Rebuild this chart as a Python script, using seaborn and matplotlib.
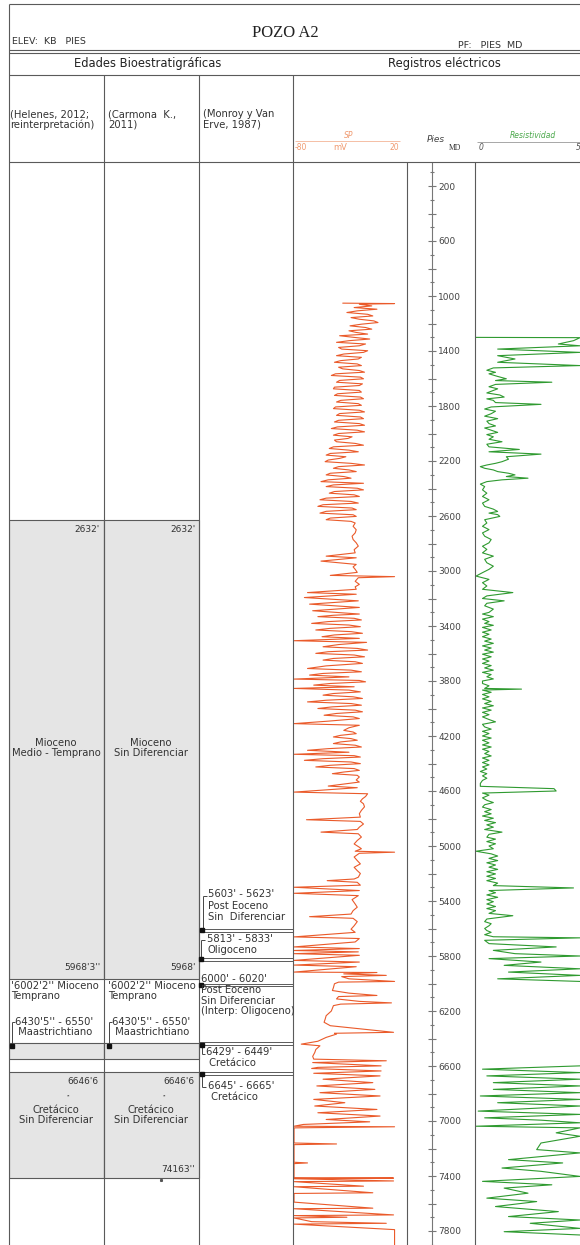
import matplotlib
matplotlib.use("Agg")
import matplotlib.pyplot as plt
import seaborn as sns
import pandas as pd
from matplotlib.patches import Rectangle
from matplotlib.ticker import FixedLocator, FuncFormatter

# ---------------- data ----------------
# SP log (depth ft, mV)
sp_upper = [(1052, -36), (1055, 14), (1060, -20), (1072, -8), (1084, -25), (1096, -3), (1108, -22), (1120, -32),
            (1133, -12), (1145, -7), (1157, -28), (1169, -20), (1181, -6), (1193, -2), (1205, -18), (1217, -29),
            (1229, -14), (1241, -8), (1253, -30), (1265, -23), (1277, -12), (1289, -39), (1301, -25), (1313, -10),
            (1325, -30), (1337, -42), (1349, -14), (1362, -20), (1374, -40), (1386, -37), (1398, -12), (1410, -16),
            (1422, -35), (1434, -42), (1446, -18), (1458, -21), (1470, -38), (1482, -44), (1494, -22), (1506, -18),
            (1518, -40), (1530, -36), (1542, -20), (1554, -15), (1566, -43), (1578, -47), (1590, -19), (1602, -16),
            (1614, -39), (1627, -42), (1639, -17), (1651, -20), (1663, -44), (1675, -45), (1687, -20), (1699, -18),
            (1711, -41), (1723, -44), (1735, -19), (1747, -16), (1759, -38), (1771, -42), (1783, -21), (1795, -18),
            (1807, -43), (1819, -45), (1831, -20), (1843, -15), (1855, -39), (1868, -42), (1880, -19), (1892, -16),
            (1904, -40), (1916, -44), (1928, -20), (1940, -15), (1952, -41), (1964, -47), (1976, -22), (1988, -15),
            (2000, -40), (2012, -45), (2024, -27), (2036, -31), (2048, -44), (2060, -42), (2072, -24), (2085, -16),
            (2097, -45), (2109, -49), (2121, -30), (2133, -21), (2145, -48), (2157, -52), (2169, -33), (2181, -39),
            (2193, -50), (2205, -53), (2217, -28), (2229, -15), (2241, -40), (2253, -45), (2265, -30), (2277, -23),
            (2289, -48), (2301, -52), (2313, -35), (2325, -28), (2337, -50), (2350, -57), (2362, -16), (2374, -45),
            (2386, -52), (2398, -22), (2410, -16), (2422, -44), (2434, -49), (2446, -25), (2458, -20), (2470, -52),
            (2482, -58), (2494, -28), (2506, -21), (2518, -55), (2530, -60), (2542, -27), (2554, -23), (2566, -52),
            (2579, -58), (2591, -26), (2603, -23), (2615, -48), (2627, -52), (2639, -28), (2651, -24), (2675, -26),
            (2700, -23), (2723, -24), (2747, -27), (2771, -26), (2795, -23), (2819, -21), (2845, -25), (2868, -24),
            (2892, -52), (2904, -23), (2928, -57), (2952, -23), (2970, -26), (2988, -24), (3010, -22), (3032, -48),
            (3041, 14), (3049, -21), (3075, -24), (3097, -20), (3115, -24), (3133, -23), (3157, -70), (3169, -23),
            (3193, -73), (3217, -21), (3241, -68), (3265, -20), (3289, -65), (3313, -20)]
sp_middle = [(3322, -45), (3332, -60), (3344, -25), (3356, -18), (3368, -50), (3381, -66), (3393, -30), (3405, -19),
             (3417, -48), (3429, -62), (3441, -28), (3453, -17), (3465, -44), (3478, -56), (3490, -20), (3507, -83),
             (3519, -13), (3535, -40), (3551, -55), (3563, -22), (3575, -12), (3587, -50), (3599, -62), (3611, -25),
             (3624, -15), (3636, -45), (3648, -55), (3660, -24), (3672, -17), (3690, -52), (3709, -70), (3721, -28),
             (3733, -18), (3745, -55), (3757, -68), (3770, -30), (3786, -83), (3796, -20), (3806, -14), (3818, -48),
             (3830, -64), (3842, -25), (3854, -83), (3866, -30), (3879, -19), (3891, -45), (3903, -55), (3915, -26),
             (3927, -17), (3940, -52), (3952, -70), (3964, -28), (3976, -18), (3988, -46), (4000, -60), (4012, -24),
             (4024, -17), (4036, -42), (4049, -54), (4061, -26), (4073, -20), (4092, -50), (4110, -83), (4122, -20),
             (4140, -30), (4159, -35), (4171, -26), (4183, -23), (4195, -38), (4207, -45), (4219, -28), (4231, -22),
             (4243, -38), (4255, -45), (4267, -24), (4280, -18), (4292, -50), (4304, -70), (4318, -30), (4333, -83),
             (4343, -25), (4353, -19), (4365, -55), (4377, -73), (4389, -28), (4401, -19), (4413, -48), (4425, -62),
             (4437, -25), (4450, -20), (4462, -35), (4474, -46), (4486, -22), (4498, -20), (4520, -23), (4535, -20),
             (4564, -50), (4576, -22), (4608, -83), (4620, -12), (4640, -14), (4657, -17), (4675, -19), (4693, -16),
             (4715, -15), (4741, -18), (4765, -20), (4790, -19), (4809, -71), (4821, -19), (4840, -16), (4863, -20),
             (4880, -22), (4899, -57), (4911, -21), (4935, -18), (4960, -22), (4985, -25), (5009, -20), (5020, -18),
             (5038, -24), (5045, 14), (5053, -20), (5080, -25), (5106, -22), (5130, -19), (5155, -25), (5179, -22),
             (5200, -19), (5227, -21), (5240, -25), (5252, -51), (5264, -22), (5285, -19), (5300, -83), (5324, -20),
             (5344, -83), (5361, -21), (5390, -27), (5422, -24), (5445, -22), (5470, -26), (5495, -28), (5514, -68),
             (5526, -26), (5550, -22), (5580, -25), (5605, -28), (5628, -24)]
sp_lower = [(5661, -83), (5673, -20), (5698, -24), (5734, -83), (5746, -20), (5760, -83), (5770, -21), (5783, -83),
            (5795, -20), (5832, -83), (5844, -20), (5866, -83), (5878, -23), (5917, -83), (5920, -3), (5930, -35),
            (5941, 6), (5950, -37), (5966, -30), (5985, 14), (5990, -40), (6002, -44), (6030, -45), (6051, -46),
            (6070, -30), (6087, -3), (6095, -40), (6112, -42), (6130, -20), (6141, 11), (6150, -38), (6161, -45),
            (6200, -47), (6234, -52), (6260, -53), (6282, -54), (6307, -48), (6355, 13), (6362, -44), (6368, -42),
            (6392, -52), (6420, -60), (6441, -76), (6453, -58), (6480, -62), (6502, -63), (6530, -65), (6550, -64),
            (6562, 6), (6575, -65), (6599, 1), (6610, -60), (6618, -66), (6636, 1), (6653, -64), (6672, 0),
            (6696, -55), (6721, -7), (6745, -61), (6770, -5), (6794, -58), (6818, 0), (6843, -64), (6867, -34),
            (6891, -63), (6916, -3), (6940, -60), (6964, 0), (6989, -52), (7006, -10), (7025, -74), (7038, -83),
            (7042, 14), (7050, -83), (7160, -83), (7167, -42), (7172, -83), (7300, -83), (7305, -70), (7310, -83),
            (7412, -83), (7415, 13), (7420, -83), (7436, 13), (7441, -83), (7474, -16), (7478, -83), (7522, -7),
            (7527, -83), (7590, -83), (7634, -7), (7638, -83), (7683, 13), (7688, -83), (7700, -32), (7705, -83),
            (7732, -66), (7744, 6), (7750, -83), (7790, 14), (7902, 14)]

# Resistivity log (depth ft, ohm-m); two logged intervals
res_upper = [(1301, 0.0), (1303, 4.8), (1325, 4.5), (1349, 3.8), (1362, 4.8), (1386, 1.0), (1410, 4.8), (1434, 1.0),
             (1458, 1.8), (1482, 1.0), (1506, 4.8), (1523, 0.8), (1540, 0.5), (1555, 0.9), (1566, 0.6), (1585, 1.0),
             (1602, 1.4), (1615, 0.9), (1627, 3.5), (1643, 0.9), (1660, 0.6), (1675, 1.0), (1687, 0.8), (1705, 0.5),
             (1720, 1.1), (1735, 1.3), (1748, 0.5), (1759, 0.8), (1775, 0.9), (1788, 3.0), (1807, 0.7), (1822, 0.4),
             (1838, 0.9), (1856, 0.7), (1874, 0.4), (1892, 1.0), (1910, 0.5), (1928, 0.6), (1945, 0.9), (1960, 0.4),
             (1976, 0.7), (1992, 1.0), (2008, 0.5), (2024, 0.8), (2042, 0.6), (2060, 1.2), (2078, 0.5), (2097, 0.6),
             (2116, 2.0), (2133, 0.6), (2150, 3.0), (2169, 1.4), (2187, 1.5), (2205, 1.2), (2217, 0.9), (2229, 0.5),
             (2241, 0.2), (2253, 0.4), (2265, 0.8), (2277, 1.0), (2289, 1.5), (2301, 1.8), (2313, 1.4), (2325, 2.4),
             (2337, 1.2), (2350, 0.5), (2368, 0.2), (2386, 0.4), (2410, 0.3), (2434, 0.5), (2458, 0.3), (2482, 0.6),
             (2506, 0.3), (2530, 0.4), (2550, 0.8), (2567, 1.0), (2579, 0.6), (2590, 1.0), (2603, 1.1), (2627, 0.4),
             (2651, 0.5), (2675, 0.3), (2699, 0.6), (2723, 0.3), (2747, 0.4), (2771, 0.7), (2795, 0.6), (2820, 0.3),
             (2843, 0.5), (2868, 0.3), (2892, 0.8), (2915, 0.4), (2940, 0.5), (2965, 0.8), (2988, 0.6), (3012, 0.3),
             (3037, 0.0), (3061, 0.6), (3085, 0.3), (3109, 0.5), (3133, 0.3), (3157, 1.7), (3181, 0.5), (3200, 0.3),
             (3217, 1.3), (3235, 0.5), (3253, 0.4), (3277, 0.8), (3301, 0.6)]
res_middle = [(3313, 0.3), (3332, 0.8), (3350, 0.3), (3368, 0.6), (3381, 0.4), (3395, 0.8), (3410, 0.3), (3429, 0.7),
              (3445, 0.3), (3460, 0.6), (3478, 0.3), (3495, 0.7), (3510, 0.4), (3526, 0.8), (3545, 0.3), (3560, 0.7),
              (3575, 0.4), (3590, 0.8), (3605, 0.3), (3624, 0.7), (3640, 0.3), (3655, 0.6), (3672, 0.3), (3688, 0.7),
              (3705, 0.4), (3721, 0.8), (3737, 0.3), (3753, 0.7), (3769, 0.5), (3785, 0.8), (3800, 0.3), (3818, 0.3),
              (3835, 0.6), (3854, 0.4), (3859, 2.1), (3866, 0.3), (3882, 0.7), (3898, 0.3), (3915, 0.6), (3930, 0.3),
              (3948, 0.7), (3964, 0.4), (3980, 0.8), (3996, 0.3), (4012, 0.7), (4028, 0.3), (4045, 0.6), (4061, 0.3),
              (4080, 0.6), (4097, 0.9), (4115, 0.3), (4134, 0.4), (4150, 0.7), (4166, 0.3), (4182, 0.6), (4200, 0.3),
              (4215, 0.7), (4231, 0.3), (4250, 0.6), (4265, 0.3), (4280, 0.7), (4296, 0.3), (4312, 0.6), (4328, 0.4),
              (4345, 0.7), (4360, 0.3), (4377, 0.6), (4393, 0.3), (4410, 0.6), (4425, 0.3), (4440, 0.5), (4458, 0.2),
              (4474, 0.5), (4490, 0.3), (4507, 0.5), (4523, 0.3), (4545, 0.2), (4566, 0.2), (4583, 3.6), (4600, 3.7),
              (4615, 0.3), (4630, 0.6), (4650, 0.3), (4668, 0.5), (4684, 0.8), (4700, 0.4), (4717, 0.3), (4735, 0.7),
              (4750, 0.4), (4766, 0.7), (4782, 0.3), (4798, 0.8), (4814, 0.4), (4830, 0.9), (4846, 0.5), (4863, 0.8),
              (4880, 0.4), (4899, 1.2), (4915, 0.6), (4936, 0.5), (4950, 0.9), (4968, 0.5), (4984, 0.9), (5000, 0.6),
              (5020, 0.8), (5038, 0.0), (5057, 0.7), (5073, 1.0), (5090, 0.6), (5106, 1.0), (5122, 0.5), (5138, 0.9),
              (5154, 0.6), (5170, 1.0), (5187, 0.5), (5203, 0.9), (5220, 0.5), (5236, 0.9), (5252, 0.5), (5270, 1.0),
              (5288, 0.8), (5305, 4.5), (5324, 0.6), (5340, 0.9), (5356, 0.5), (5373, 1.0), (5390, 0.5), (5405, 0.8),
              (5422, 0.5), (5440, 0.9), (5455, 0.5), (5470, 0.9), (5490, 0.6), (5507, 1.7), (5531, 0.5), (5550, 0.4),
              (5565, 0.7), (5580, 0.6), (5600, 0.4), (5615, 0.5), (5628, 0.7), (5645, 0.4), (5660, 0.8), (5668, 4.8),
              (5686, 0.4), (5710, 0.6), (5734, 3.7), (5759, 0.8), (5783, 1.8), (5800, 4.8), (5819, 0.6), (5844, 3.0),
              (5868, 1.3), (5893, 4.8), (5917, 1.5), (5941, 4.8), (5966, 1.0), (5985, 4.8)]
res_lower = [(6599, 4.8), (6623, 0.3), (6648, 4.8), (6672, 0.5), (6696, 4.8), (6721, 0.8), (6745, 4.8), (6770, 0.8),
             (6794, 4.8), (6818, 0.2), (6843, 4.8), (6867, 1.0), (6891, 4.8), (6928, 0.1), (6952, 4.8), (6977, 0.4),
             (6994, 3.0), (7013, 4.8), (7038, 0.0), (7050, 4.8), (7086, 3.7), (7111, 4.8), (7160, 3.0), (7208, 2.8),
             (7232, 4.8), (7281, 1.5), (7305, 4.0), (7342, 1.2), (7366, 3.0), (7403, 4.8), (7439, 0.3), (7464, 3.5),
             (7488, 1.3), (7525, 2.4), (7561, 0.5), (7586, 2.8), (7622, 0.9), (7659, 3.8), (7695, 1.5), (7720, 4.8),
             (7744, 2.5), (7781, 4.8), (7805, 1.3), (7829, 4.8)]

# Biostratigraphic intervals (ft)
bio_tops = [2632, 6430.4, 6646.5]
bio_bases = [5968.25, 6550, 7416.25]
monroy_tops = [5603, 5813, 6000, 6429, 6645]
monroy_bases = [5623, 5833, 6020, 6449, 6665]

# ---------------- figure ----------------
sns.set_theme(style="white")
plt.rcParams["font.family"] = ["DejaVu Sans"]

W, H = 580, 1245
Y0, SCALE = 158.5, 0.1375          # pixel row of depth 0, pixels per foot
DMAX = (H - Y0) / SCALE
fig = plt.figure(figsize=(W / 100, H / 100), dpi=100)
fig.patch.set_facecolor("white")


def px_axes(x0, y0, x1, y1, z=1):
    return fig.add_axes([x0 / W, 1 - y1 / H, (x1 - x0) / W, (y1 - y0) / H], zorder=z)


LC = "#5a5a5a"
SPC = "#ea5a2a"
REC = "#2f9a30"

# strat columns
ax_s = px_axes(9, Y0, 293, H)
ax_s.set_xlim(9, 293)
ax_s.set_ylim(DMAX, 0)
ax_s.axis("off")
for x0 in (9, 104):
    for t, b in zip(bio_tops, bio_bases):
        ax_s.add_patch(Rectangle((x0, t), 95, b - t, fc="#e5e5e5", ec=LC, lw=0.8))
for t, b in zip(monroy_tops, monroy_bases):
    ax_s.add_patch(Rectangle((199, t), 94, b - t, fc="white", ec=LC, lw=0.7))


def make_df(*segs):
    rows = []
    for i, seg in enumerate(segs):
        for d, v in seg:
            rows.append({"depth": d, "value": v, "seg": i})
    return pd.DataFrame(rows)


# SP track
ax_sp = px_axes(293, Y0, 407, H, z=2)
sp_df = make_df(sp_upper + sp_middle + sp_lower)
sns.lineplot(data=sp_df, x="value", y="depth", units="seg", estimator=None, sort=False,
             orient="y", color=SPC, lw=0.8, ax=ax_sp, legend=False)
ax_sp.set_xlim(-84, 26)
ax_sp.set_ylim(DMAX, 0)
ax_sp.axis("off")

# Resistivity track
ax_r = px_axes(476, Y0, 580, H, z=2)
res_df = make_df(res_upper + res_middle, res_lower)
sns.lineplot(data=res_df, x="value", y="depth", units="seg", estimator=None, sort=False,
             orient="y", color=REC, lw=0.8, ax=ax_r, legend=False)
ax_r.set_xlim(0, 4.8)
ax_r.set_ylim(DMAX, 0)
ax_r.axis("off")

# Depth track
ax_d = px_axes(407, Y0, 475, H, z=2)
ax_d.set_facecolor("none")
ax_d.set_xlim(0, 1)
ax_d.set_ylim(DMAX, 0)
for s in ("left", "top", "bottom"):
    ax_d.spines[s].set_visible(False)
ax_d.spines["right"].set_position(("axes", 25 / 68))
ax_d.spines["right"].set_color("#777")
ax_d.spines["right"].set_linewidth(0.8)
ax_d.spines["right"].set_bounds(30, DMAX)
ax_d.set_xticks([])
ax_d.yaxis.tick_right()
ax_d.yaxis.set_major_locator(FixedLocator(list(range(200, 8000, 200))))
ax_d.yaxis.set_minor_locator(FixedLocator(list(range(100, 8000, 200))))
ax_d.yaxis.set_major_formatter(FuncFormatter(lambda v, p: f"{int(v)}" if int(v) % 400 == 200 else ""))
ax_d.tick_params(axis="y", which="major", direction="inout", length=5.8, width=0.8, color="#777",
                 labelsize=6.5, labelcolor="#444", pad=1.5)
ax_d.tick_params(axis="y", which="minor", direction="inout", length=3, width=0.8, color="#777")
ax_d.set_ylabel("")

# overlay (frame + text) in pixel coordinates
ax_o = fig.add_axes([0, 0, 1, 1], zorder=10)
ax_o.set_xlim(0, W)
ax_o.set_ylim(H, 0)
ax_o.axis("off")


def hl(y, x0, x1, c=LC, lw=0.8):
    ax_o.plot([x0, x1], [y, y], color=c, lw=lw, solid_capstyle="butt")


def vl(x, y0, y1, c=LC, lw=0.8):
    ax_o.plot([x, x], [y0, y1], color=c, lw=lw, solid_capstyle="butt")


hl(4, 9, 580)
hl(50, 9, 580)
hl(53, 9, 580)
hl(75, 9, 580)
hl(162, 9, 580)
vl(9, 4, H)
for x in (104, 199, 293):
    vl(x, 75, H)
for x in (407, 475):
    vl(x, 162, H)

ax_o.text(285, 33, "POZO A2", fontsize=12, family="Liberation Serif", ha="center", va="center", color="#222")
ax_o.text(12, 42, "ELEV:  KB   PIES", fontsize=6.8, ha="left", va="center", color="#333")
ax_o.text(458, 45, "PF:   PIES  MD", fontsize=6.8, ha="left", va="center", color="#333")
ax_o.text(148, 64, "Edades Bioestratigráficas", fontsize=8.3, ha="center", va="center", color="#222")
ax_o.text(444, 64, "Registros eléctricos", fontsize=8.3, ha="center", va="center", color="#222")

fs = 7.2
ax_o.text(10, 119.5, "(Helenes, 2012;\nreinterpretación)", fontsize=fs, ha="left", va="center", linespacing=1.05, color="#333")
ax_o.text(108, 119.5, "(Carmona  K.,\n2011)", fontsize=fs, ha="left", va="center", linespacing=1.05, color="#333")
ax_o.text(203, 119.5, "(Monroy y Van\nErve, 1987)", fontsize=fs, ha="left", va="center", linespacing=1.05, color="#333")

# log headers
spl = "#f09a70"
ax_o.text(349, 135, "SP", fontsize=5.5, style="italic", ha="center", va="center", color=spl)
hl(141, 295, 400, c="#f4b496", lw=0.6)
ax_o.text(295, 148, "-80", fontsize=5.5, ha="left", va="center", color=spl)
ax_o.text(340, 148, "mV", fontsize=6, ha="center", va="center", color=spl)
ax_o.text(399, 148, "20", fontsize=5.5, ha="right", va="center", color=spl)
ax_o.text(427, 140, "Pies", fontsize=6.5, style="italic", ha="left", va="center", color="#444")
ax_o.text(455, 148, "MD", fontsize=5.5, family="Liberation Serif", ha="center", va="center", color="#333")
ax_o.text(533, 136, "Resistividad", fontsize=5.5, style="italic", ha="center", va="center", color="#4aa84a")
hl(142, 477, 580, c="#999", lw=0.6)
ax_o.text(479, 148, "0", fontsize=5.5, style="italic", ha="left", va="center", color="#555")
ax_o.text(576, 148, "5", fontsize=5.5, style="italic", ha="left", va="center", color="#555")

# column 1 & 2 labels
tc = "#333"
for xr, xc, xl in ((100, 56, 11), (196, 151, 108)):
    ax_o.text(xr, 529, "2632'", fontsize=6.5, ha="right", va="center", color=tc)
    ax_o.text(xr - 2, 1082, "6646'6", fontsize=6.5, ha="right", va="center", color=tc)
    ax_o.text(xr - 32, 1097, "''", fontsize=4.5, ha="center", va="center", color=tc)
    ax_o.text(xc, 1115, "Cretácico\nSin Diferenciar", fontsize=fs, ha="center", va="center", linespacing=1.1, color=tc)
    ax_o.text(xl, 981, "'6002'2'' Mioceno\nTemprano", fontsize=fs, ha="left", va="top", linespacing=1.05, color=tc)
    ax_o.text(xl + 4, 1017, "6430'5'' - 6550'\n Maastrichtiano", fontsize=fs, ha="left", va="top", linespacing=1.05, color=tc)
    vl(xl + 1, 1022, 1045, c="#444", lw=0.7)
    hl(1022, xl + 1, xl + 4, c="#444", lw=0.7)
    ax_o.plot([xl + 1], [1046], marker="s", ms=2.2, color="#111")
ax_o.text(56, 748, "Mioceno\nMedio - Temprano", fontsize=fs, ha="center", va="center", linespacing=1.1, color=tc)
ax_o.text(151, 748, "Mioceno\nSin Diferenciar", fontsize=fs, ha="center", va="center", linespacing=1.1, color=tc)
ax_o.text(101, 968, "5968'3''", fontsize=6.5, ha="right", va="center", color=tc)
ax_o.text(196, 968, "5968'", fontsize=6.5, ha="right", va="center", color=tc)
ax_o.text(195, 1169, "74163''", fontsize=6.5, ha="right", va="center", color=tc)
ax_o.plot([161], [1180], marker="s", ms=1.2, color="#555")

# column 3 labels
ax_o.text(208, 889, "5603' - 5623'\nPost Eoceno\nSin  Diferenciar", fontsize=fs, ha="left", va="top", linespacing=1.2, color=tc)
vl(203, 896, 930, c="#444", lw=0.7)
hl(896, 203, 207, c="#444", lw=0.7)
ax_o.plot([202], [930], marker="s", ms=2.2, color="#111")
ax_o.text(207, 934, "5813' - 5833'\nOligoceno", fontsize=fs, ha="left", va="top", linespacing=1.15, color=tc)
vl(201, 940, 959, c="#444", lw=0.7)
hl(940, 201, 205, c="#444", lw=0.7)
ax_o.plot([201], [959], marker="s", ms=2.2, color="#111")
ax_o.text(201, 974, "6000' - 6020'\nPost Eoceno\nSin Diferenciar\n(Interp: Oligoceno)", fontsize=fs, ha="left", va="top", linespacing=1.1, color=tc)
ax_o.plot([201], [985], marker="s", ms=2.2, color="#111")
ax_o.text(206, 1047, "6429' - 6449'\n Cretácico", fontsize=fs, ha="left", va="top", linespacing=1.1, color=tc)
vl(202, 1045, 1054, c="#444", lw=0.7)
hl(1054, 202, 205, c="#444", lw=0.7)
ax_o.plot([202], [1045], marker="s", ms=2.2, color="#111")
ax_o.text(208, 1081, "6645' - 6665'\n Cretácico", fontsize=fs, ha="left", va="top", linespacing=1.1, color=tc)
vl(202, 1075, 1087, c="#444", lw=0.7)
hl(1087, 202, 206, c="#444", lw=0.7)
ax_o.plot([202], [1074], marker="s", ms=2.2, color="#111")

fig.savefig("out.png", dpi=100, facecolor="white")
